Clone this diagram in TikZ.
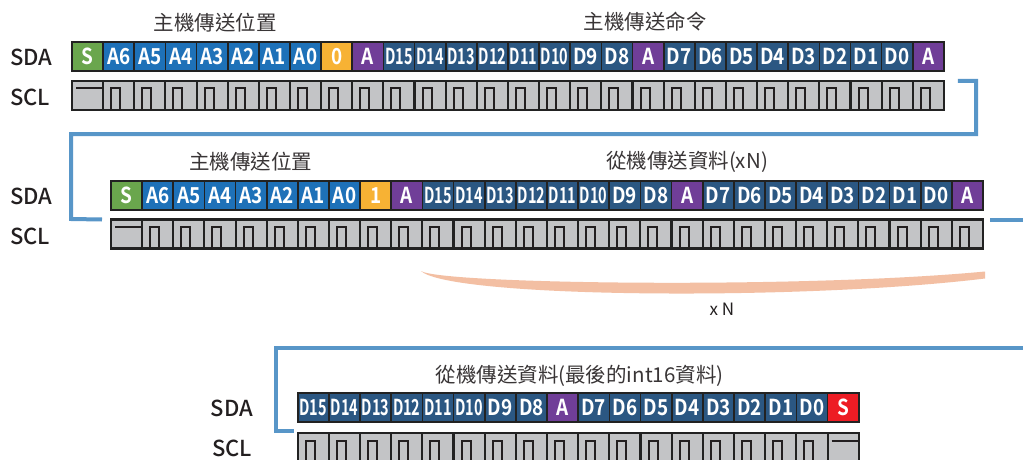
\documentclass[tikz,border=0pt]{standalone}
\usepackage{fontspec}
\usepackage{graphicx}
\setmainfont{Noto Sans CJK TC}
\newfontfamily\cellfont{Noto Sans CJK TC}[UprightFont=* Bold]
\newfontfamily\lblfont{Noto Sans CJK TC}[UprightFont=* Medium]
\definecolor{cS}{HTML}{6AA64D}
\definecolor{cA}{HTML}{1E71B8}
\definecolor{cO}{HTML}{F7B234}
\definecolor{cP}{HTML}{703E98}
\definecolor{cD}{HTML}{2B5782}
\definecolor{cR}{HTML}{ED1C24}
\definecolor{cG}{HTML}{C3C4C6}
\definecolor{cB}{HTML}{222222}
\definecolor{cLine}{HTML}{5896C8}
\definecolor{cSal}{HTML}{F3BFA3}
\definecolor{cTxt}{HTML}{231F20}
\newsavebox\cbox
\newcommand\ctext[1]{\sbox\cbox{#1}\ifdim0.86\wd\cbox>27.5pt\resizebox{27.5pt}{\height}{#1}\else\scalebox{0.86}[1]{#1}\fi}
\begin{document}
\begin{tikzpicture}[x=1pt,y=-1pt,
  sdacell/.style={draw=cB, line width=1.7pt, minimum width=31.14pt, minimum height=29pt, inner sep=0pt, outer sep=0pt, anchor=north west, text=white, font=\cellfont\fontsize{22}{22}\selectfont},
  sclcell/.style={draw=cB, fill=cG, line width=2.1pt, minimum width=31.14pt, minimum height=29pt, inner sep=0pt, outer sep=0pt, anchor=north west},
  pulse/.style={draw=cTxt, line width=2pt},
  sigl/.style={font=\lblfont\fontsize{22}{22}\selectfont, text=cTxt, inner sep=0pt},
  ttl/.style={font=\fontsize{20.5}{20.5}\selectfont, text=cTxt!90, inner sep=0pt},
  link/.style={draw=cLine, line width=4pt}
]
\useasboundingbox (0,0) rectangle (1023,460);
\clip (0,0) rectangle (1023,460);
\fill[white] (0,0) rectangle (1023,460);

% ---------- Row 1 ----------
\node[ttl] (t1a) at (215,23) {主機傳送位置};
\node[ttl] (t1b) at (645,22) {主機傳送命令};
\node[sigl, anchor=west] (l1d) at (10,57) {SDA};
\node[sigl, anchor=west] (l1c) at (10,97) {SCL};
\foreach \lbl/\col [count=\i from 0] in {S/cS,A6/cA,A5/cA,A4/cA,A3/cA,A2/cA,A1/cA,A0/cA,0/cO,A/cP,D15/cD,D14/cD,D13/cD,D12/cD,D11/cD,D10/cD,D9/cD,D8/cD,A/cP,D7/cD,D6/cD,D5/cD,D4/cD,D3/cD,D2/cD,D1/cD,D0/cD,A/cP}{
  \node[sdacell, fill=\col] (r1d\i) at ({72+\i*31.14},42) {\ctext{\lbl}};
  \node[sclcell] (r1c\i) at ({72+\i*31.14},81) {};
}
\draw[pulse] ([xshift=4pt,yshift=-7.5pt]r1c0.north west) -- ([yshift=-7.5pt]r1c0.north east);
\foreach \i in {1,...,27}{
  \draw[pulse] ([xshift=8pt]r1c\i.south west) -- ([xshift=8pt,yshift=-7.5pt]r1c\i.north west) -- ([xshift=17pt,yshift=-7.5pt]r1c\i.north west) -- ([xshift=17pt]r1c\i.south west);
}

% ---------- Row 2 ----------
\node[ttl] (t2a) at (250.5,162) {主機傳送位置};
\node[ttl] (t2b) at (687,162) {從機傳送資料(xN)};
\node[sigl, anchor=west] (l2d) at (10,196) {SDA};
\node[sigl, anchor=west] (l2c) at (10,236) {SCL};
\foreach \lbl/\col [count=\i from 0] in {S/cS,A6/cA,A5/cA,A4/cA,A3/cA,A2/cA,A1/cA,A0/cA,1/cO,A/cP,D15/cD,D14/cD,D13/cD,D12/cD,D11/cD,D10/cD,D9/cD,D8/cD,A/cP,D7/cD,D6/cD,D5/cD,D4/cD,D3/cD,D2/cD,D1/cD,D0/cD,A/cP}{
  \node[sdacell, fill=\col] (r2d\i) at ({111+\i*31.14},181) {\ctext{\lbl}};
  \node[sclcell] (r2c\i) at ({111+\i*31.14},219.5) {};
}
\draw[pulse] ([xshift=4pt,yshift=-7.5pt]r2c0.north west) -- ([yshift=-7.5pt]r2c0.north east);
\foreach \i in {1,...,27}{
  \draw[pulse] ([xshift=8pt]r2c\i.south west) -- ([xshift=8pt,yshift=-7.5pt]r2c\i.north west) -- ([xshift=17pt,yshift=-7.5pt]r2c\i.north west) -- ([xshift=17pt]r2c\i.south west);
}

% repeat brace and label
\fill[cSal] (421,271) .. controls (440,284) and (800,289) .. (985,271.5) -- (985,278.5) .. controls (800,301) and (450,298) .. (421,271) -- cycle;
\node[font=\fontsize{17}{17}\selectfont, text=cTxt, inner sep=0pt] (xn) at (722,309) {x N};

% ---------- Row 3 ----------
\node[ttl] (t3) at (579.5,376) {從機傳送資料(最後的int16資料)};
\node[sigl] (l3d) at (232,408) {SDA};
\node[sigl] (l3c) at (232,448) {SCL};
\foreach \lbl/\col [count=\i from 0] in {D15/cD,D14/cD,D13/cD,D12/cD,D11/cD,D10/cD,D9/cD,D8/cD,A/cP,D7/cD,D6/cD,D5/cD,D4/cD,D3/cD,D2/cD,D1/cD,D0/cD,S/cR}{
  \node[sdacell, fill=\col] (r3d\i) at ({297.7+\i*31.17},393) {\ctext{\lbl}};
  \node[sclcell] (r3c\i) at ({297.7+\i*31.17},433) {};
}
\foreach \i in {0,...,16}{
  \draw[pulse] ([xshift=8pt]r3c\i.south west) -- ([xshift=8pt,yshift=-7.5pt]r3c\i.north west) -- ([xshift=17pt,yshift=-7.5pt]r3c\i.north west) -- ([xshift=17pt]r3c\i.south west);
}
\draw[pulse] ([xshift=4pt,yshift=-7.5pt]r3c17.north west) -- ([yshift=-7.5pt]r3c17.north east);

% ---------- connectors ----------
\coordinate (k1) at ([xshift=14pt]r1c27.north east);
\coordinate (k2) at (976,81);
\coordinate (k3) at (976,134);
\coordinate (k4) at (71,134);
\coordinate (k5) at (71,219);
\coordinate (k6) at ([xshift=-9pt]r2c0.north west);
\draw[link] (k1) -- (k2) -- (k3) -- (k4) -- (k5) -- (k6);
\coordinate (m1) at ([xshift=7pt]r2c27.north east);
\coordinate (m2) at (1030,219.5);
\draw[link] (m1) -- (m2);
\coordinate (n1) at (1030,347.5);
\coordinate (n2) at (276,347.5);
\coordinate (n3) at (276,430.5);
\coordinate (n4) at ([xshift=-4pt,yshift=2.5pt]r3c0.north west);
\draw[link] (n1) -- (n2) -- (n3) -- (n4);
\end{tikzpicture}
\end{document}
